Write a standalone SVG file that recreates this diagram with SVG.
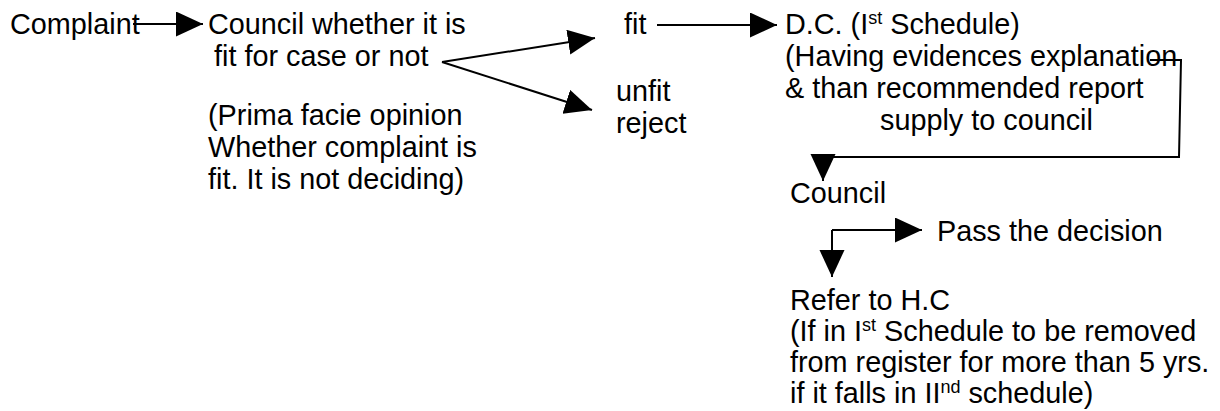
<svg xmlns="http://www.w3.org/2000/svg" width="1220" height="411" viewBox="0 0 1220 411">
  <style>
    text { font-family: "Liberation Sans", Arial, sans-serif; font-size: 28.8px; fill: #000; }
    .sup { font-size: 18px; }
    .link { fill: none; stroke: #000; stroke-width: 2; }
  </style>
  <defs>
    <!-- solid triangular arrowhead, tip at the path end -->
    <marker id="head" markerUnits="userSpaceOnUse" markerWidth="28" markerHeight="26" refX="27" refY="12.5" orient="auto">
      <path d="M0,0 L27,12.5 L0,25 Z" fill="#000"/>
    </marker>
  </defs>
  <rect width="1220" height="411" fill="#fff"/>

  <g id="complaint">
    <text x="10" y="34">Complaint</text>
  </g>

  <g id="council-check">
    <text x="208" y="34">Council whether it is</text>
    <text x="214" y="66">fit for case or not</text>
  </g>

  <g id="prima-facie-note">
    <text x="208" y="125">(Prima facie opinion</text>
    <text x="208" y="157">Whether complaint is</text>
    <text x="208" y="189">fit. It is not deciding)</text>
  </g>

  <g id="fit">
    <text x="624" y="34">fit</text>
  </g>

  <g id="unfit">
    <text x="616" y="101">unfit</text>
    <text x="616" y="133">reject</text>
  </g>

  <g id="dc">
    <text x="785" y="34">D.C. (I<tspan class="sup" dy="-10">st</tspan><tspan dy="10"> Schedule)</tspan></text>
    <text x="785" y="66">(Having evidences explanation</text>
    <text x="785" y="98">&amp; than recommended report</text>
    <text x="880" y="130">supply to council</text>
  </g>

  <g id="council">
    <text x="790" y="203">Council</text>
  </g>

  <g id="pass-decision">
    <text x="937" y="241">Pass the decision</text>
  </g>

  <g id="refer-hc">
    <text x="790" y="310">Refer to H.C</text>
    <text x="790" y="341">(If in I<tspan class="sup" dy="-10">st</tspan><tspan dy="10"> Schedule to be removed</tspan></text>
    <text x="790" y="372">from register for more than 5 yrs.</text>
    <text x="790" y="403">if it falls in II<tspan class="sup" dy="-10">nd</tspan><tspan dy="10"> schedule)</tspan></text>
  </g>

  <g id="connectors">
    <path class="link" d="M133,24 H203" marker-end="url(#head)"/>
    <path class="link" d="M442,62 L595,38" marker-end="url(#head)"/>
    <path class="link" d="M442,62 L592,110" marker-end="url(#head)"/>
    <path class="link" d="M657,25 H777" marker-end="url(#head)"/>
    <path class="link" d="M1150,60 H1181 L1179,157 H823 V181" marker-end="url(#head)"/>
    <path class="link" d="M832,230 H922" marker-end="url(#head)"/>
    <path class="link" d="M832,230 V277" marker-end="url(#head)"/>
  </g>
</svg>
